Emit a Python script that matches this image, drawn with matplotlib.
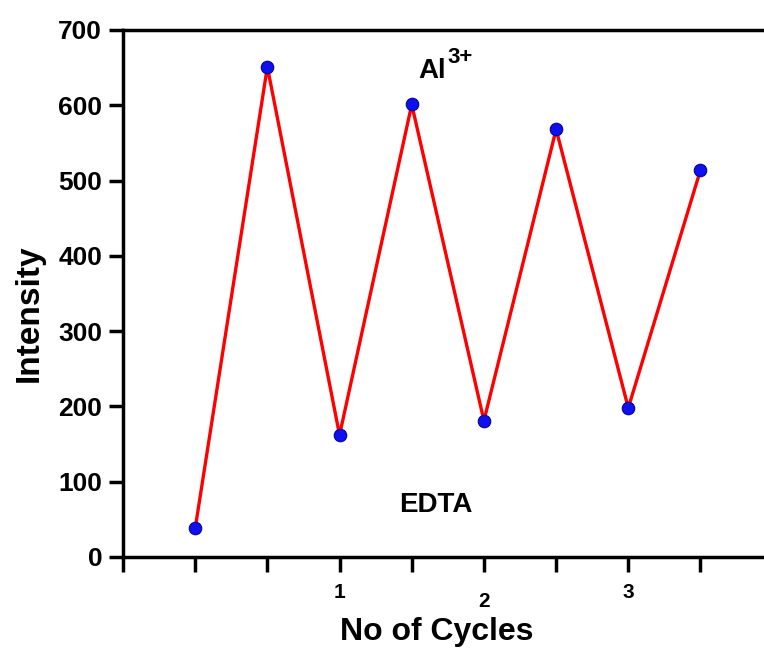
import numpy as np
import matplotlib
matplotlib.use('Agg')
import matplotlib.pyplot as plt
from matplotlib.transforms import ScaledTranslation

plt.rcParams['font.family'] = ['Liberation Sans', 'DejaVu Sans']
plt.rcParams['font.weight'] = 'bold'

## data
cycles = [0, 0.5, 1, 1.5, 2, 2.5, 3, 3.5]
intensity = [38, 651, 162, 601, 181, 568, 198, 514]
xtick_pos = [-0.5, 0, 0.5, 1, 1.5, 2, 2.5, 3, 3.5]
xtick_lab = ['', '', '', '1', '', '2', '', '3', '']
ytick_pos = [0, 100, 200, 300, 400, 500, 600, 700]

fig = plt.figure(figsize=(7.64, 6.51), dpi=100)
ax = fig.add_axes([0.161, 0.1444, 0.839, 0.8096])

ax.plot(cycles, intensity, color='red', lw=2.4, zorder=2)
ax.plot(cycles, intensity, 'o', ms=9, color='#1010ee', mec='#0000a0', mew=0.8, zorder=3)

# Al3+ label built from two texts so the superscript sits tight
ax.text(1.74, 645, 'Al', fontsize=20, fontweight='bold', ha='right', va='center')
ax.text(1.745, 663, '3+', fontsize=16, fontweight='bold', ha='left', va='center')
ax.text(1.67, 69, 'EDTA', fontsize=20, fontweight='bold', ha='center', va='center')

ax.set_xlim(-0.5, 3.94)
ax.set_ylim(0, 700)
ax.set_xticks(xtick_pos)
ax.set_xticklabels(xtick_lab)
ax.set_yticks(ytick_pos)

for s in ['left', 'bottom', 'top']:
    ax.spines[s].set_linewidth(2.5)
ax.spines['right'].set_visible(False)
ax.tick_params(axis='x', direction='out', length=11, width=2.5, labelsize=15, pad=8)
ax.tick_params(axis='y', direction='out', length=10, width=2.5, labelsize=19, pad=5)
ax.tick_params(top=False, right=False)
for lab in ax.get_xticklabels() + ax.get_yticklabels():
    lab.set_fontweight('bold')
# the "2" sits a bit lower in the original
two = ax.get_xticklabels()[5]
two.set_transform(two.get_transform() + ScaledTranslation(0, -6 / 72, fig.dpi_scale_trans))

ax.set_xlabel('No of Cycles', fontsize=23, fontweight='bold')
ax.set_ylabel('Intensity', fontsize=24, fontweight='bold')
ax.xaxis.set_label_coords(0.49, -0.113)
ax.yaxis.set_label_coords(-0.122, 0.463)

fig.savefig('out.png', dpi=100)
